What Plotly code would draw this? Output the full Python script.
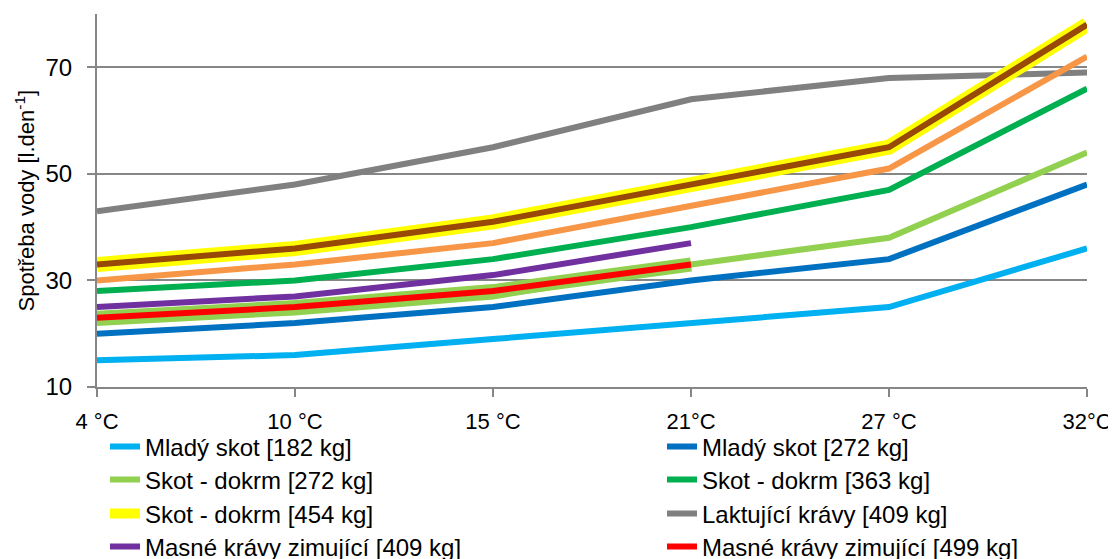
import plotly.graph_objects as go

categories = ["4 °C", "10 °C", "15 °C", "21°C", "27 °C", "32°C"]

mlady_182 = [15, 16, 19, 22, 25, 36]
mlady_272 = [20, 22, 25, 30, 34, 48]
dokrm_272 = [22, 24, 27, 33, 38, 54]
dokrm_363 = [28, 30, 34, 40, 47, 66]
dokrm_454 = [33, 36, 41, 48, 55, 78]
laktujici_409 = [43, 48, 55, 64, 68, 69]
masne_409 = [25, 27, 31, 37, None, None]
masne_499 = [23, 25, 28, 33, None, None]
# series drawn without a visible legend entry
extra_orange = [30, 33, 37, 44, 51, 72]
extra_brown = [33, 36, 41, 48, 55, 78]
extra_lightgreen = [23, 25, 28, 33, None, None]

y_title = "Spotřeba vody [l.den<sup>-1</sup>]"

FONT = "Liberation Sans"
fig = go.Figure()

def add(name, y, color, width, legend=None):
    fig.add_trace(go.Scatter(
        x=categories, y=y, name=name, mode="lines",
        line=dict(color=color, width=width),
        showlegend=legend is not None,
        legend=legend if legend else "legend",
        connectgaps=False,
    ))

add("Laktující krávy [409 kg]", laktujici_409, "#808080", 6, "legend6")
add("Mladý skot [182 kg]", mlady_182, "#00B0F0", 6, "legend")
add("Mladý skot [272 kg]", mlady_272, "#0070C0", 6, "legend2")
add("Skot - dokrm [272 kg]", dokrm_272, "#92D050", 6, "legend3")
add("extra lightgreen", extra_lightgreen, "#92D050", 14)
add("Skot - dokrm [363 kg]", dokrm_363, "#00B050", 6, "legend4")
add("extra orange", extra_orange, "#F79646", 6)
add("Skot - dokrm [454 kg]", dokrm_454, "#FFFF00", 15, "legend5")
add("extra brown", extra_brown, "#984807", 6)
add("Masné krávy zimující [409 kg]", masne_409, "#7030A0", 6, "legend7")
add("Masné krávy zimující [499 kg]", masne_499, "#FF0000", 6, "legend8")

W, H = 1116, 559
OFF = 8  # page body margin
L, R, T, B = 97, 1087, 14, 387  # plot area in page pixels

def leg(xp, yp):
    return dict(orientation="v", xref="container", yref="container",
                x=(xp - OFF) / W, y=1 - (yp - OFF) / H,
                xanchor="left", yanchor="middle",
                font=dict(family=FONT, size=24, color="#000000"),
                bgcolor="rgba(0,0,0,0)", itemwidth=30)

rows = [447, 480, 514, 547]
col1, col2 = 105, 662

fig.update_layout(
    width=W, height=H,
    margin=dict(l=L - OFF, r=W - R + OFF, t=T - OFF, b=H - B + OFF,
                autoexpand=False),
    paper_bgcolor="white", plot_bgcolor="white",
    font=dict(family=FONT, size=22, color="#000000"),
    legend=leg(col1, rows[0]),
    legend2=leg(col2, rows[0]),
    legend3=leg(col1, rows[1]),
    legend4=leg(col2, rows[1]),
    legend5=leg(col1, rows[2]),
    legend6=leg(col2, rows[2]),
    legend7=leg(col1, rows[3]),
    legend8=leg(col2, rows[3]),
)

fig.add_annotation(
    text=y_title, textangle=-90, showarrow=False,
    xref="paper", yref="paper", x=(24 - L) / (R - L), y=0.5,
    xanchor="center", yanchor="middle",
    font=dict(family=FONT, size=22, color="#000000"),
)

fig.update_xaxes(
    type="category", range=[0, 5],
    showline=True, linecolor="#868686", linewidth=2,
    ticks="outside", ticklen=8, tickcolor="#868686", tickwidth=2,
    showgrid=False, tickfont=dict(family=FONT, size=22),
    ticklabelstandoff=6, automargin=False, tickangle=0,
)
fig.update_yaxes(
    range=[10, 80], tickvals=[10, 30, 50, 70],
    showline=True, linecolor="#868686", linewidth=2,
    ticks="outside", ticklen=8, tickcolor="#868686", tickwidth=2,
    showgrid=True, gridcolor="#868686", gridwidth=2,
    zeroline=False, tickfont=dict(family=FONT, size=24),
    ticklabelstandoff=10, automargin=False,
)

fig.write_html("out.html")
